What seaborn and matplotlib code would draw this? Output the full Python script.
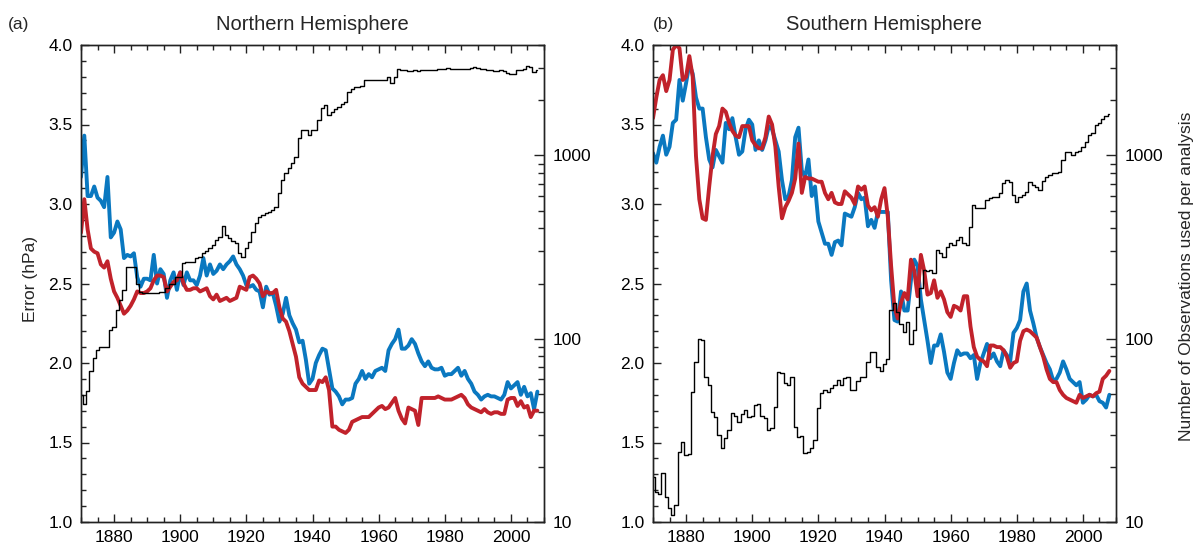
from matplotlib import pyplot as plt
from matplotlib.ticker import MultipleLocator, LogLocator, NullFormatter
from matplotlib.ticker import FixedLocator, FixedFormatter
import pandas as pd
import seaborn as sns

# ---- data ----
years = list(range(1870, 2009))

nh_blue = [3.17, 3.43, 3.05, 3.05, 3.11, 3.04, 3.02, 2.98, 3.17, 2.79,
           2.82, 2.89, 2.84, 2.66, 2.68, 2.67, 2.69, 2.54, 2.48, 2.53,
           2.53, 2.52, 2.68, 2.50, 2.59, 2.56, 2.41, 2.52, 2.57, 2.46,
           2.57, 2.49, 2.57, 2.52, 2.52, 2.49, 2.55, 2.66, 2.55, 2.62,
           2.56, 2.58, 2.62, 2.59, 2.62, 2.64, 2.67, 2.62, 2.59, 2.55,
           2.49, 2.48, 2.49, 2.46, 2.45, 2.35, 2.48, 2.43, 2.44, 2.36,
           2.26, 2.31, 2.41, 2.30, 2.25, 2.21, 2.13, 2.14, 2.02, 1.87,
           1.90, 2.00, 2.05, 2.09, 2.08, 1.96, 1.84, 1.82, 1.79, 1.74,
           1.77, 1.77, 1.78, 1.87, 1.90, 1.95, 1.90, 1.93, 1.91, 1.95,
           1.96, 1.97, 1.95, 2.08, 2.12, 2.15, 2.21, 2.09, 2.09, 2.11,
           2.15, 2.12, 2.06, 2.01, 1.98, 2.01, 1.97, 1.96, 1.96, 1.97,
           1.92, 1.93, 1.93, 1.95, 1.97, 1.92, 1.95, 1.90, 1.87, 1.82,
           1.80, 1.77, 1.79, 1.80, 1.79, 1.79, 1.78, 1.77, 1.80, 1.88,
           1.84, 1.86, 1.88, 1.80, 1.85, 1.79, 1.81, 1.71, 1.82]

nh_red = [2.82, 3.03, 2.84, 2.72, 2.70, 2.69, 2.62, 2.60, 2.64, 2.53,
          2.45, 2.41, 2.36, 2.31, 2.33, 2.36, 2.40, 2.45, 2.44, 2.44,
          2.45, 2.47, 2.52, 2.55, 2.55, 2.54, 2.45, 2.48, 2.51, 2.52,
          2.57, 2.50, 2.46, 2.46, 2.47, 2.47, 2.45, 2.46, 2.47, 2.42,
          2.40, 2.43, 2.39, 2.40, 2.41, 2.39, 2.40, 2.41, 2.48, 2.47,
          2.46, 2.54, 2.55, 2.53, 2.50, 2.42, 2.45, 2.44, 2.44, 2.46,
          2.35, 2.28, 2.26, 2.20, 2.12, 2.04, 1.91, 1.87, 1.85, 1.83,
          1.83, 1.83, 1.89, 1.88, 1.91, 1.83, 1.60, 1.60, 1.58, 1.57,
          1.56, 1.58, 1.63, 1.64, 1.65, 1.66, 1.66, 1.66, 1.68, 1.70,
          1.72, 1.73, 1.71, 1.72, 1.75, 1.78, 1.70, 1.65, 1.62, 1.72,
          1.71, 1.70, 1.61, 1.78, 1.78, 1.78, 1.78, 1.78, 1.79, 1.78,
          1.77, 1.77, 1.77, 1.78, 1.79, 1.80, 1.78, 1.74, 1.72, 1.71,
          1.70, 1.69, 1.71, 1.69, 1.68, 1.69, 1.69, 1.68, 1.68, 1.77,
          1.78, 1.78, 1.73, 1.76, 1.72, 1.73, 1.66, 1.70, 1.70]

nh_obs = [49, 44, 52, 67, 78, 87, 90, 90, 90, 111,
          116, 143, 163, 184, 247, 247, 247, 200, 180, 177,
          177, 177, 177, 178, 180, 180, 188, 200, 200, 218,
          218, 258, 263, 263, 263, 274, 280, 292, 300, 311,
          324, 345, 360, 412, 368, 353, 340, 331, 292, 280,
          311, 338, 383, 425, 463, 470, 483, 490, 504, 525,
          621, 735, 798, 850, 905, 985, 1240, 1375, 1375, 1290,
          1375, 1375, 1560, 1808, 1885, 1660, 1720, 1780, 1845, 1900,
          1963, 2225, 2300, 2350, 2370, 2400, 2575, 2575, 2575, 2580,
          2585, 2590, 2590, 2685, 2470, 2685, 2945, 2930, 2910, 2900,
          2895, 2905, 2900, 2910, 2920, 2920, 2930, 2940, 2945, 2950,
          2960, 2985, 2970, 2960, 2955, 2950, 2945, 2960, 2990, 3020,
          2990, 2960, 2945, 2930, 2910, 2895, 2895, 2920, 2900, 2805,
          2790, 2790, 2920, 2920, 2945, 3070, 3045, 2860, 2920]

sh_blue = [3.32, 3.26, 3.36, 3.43, 3.31, 3.36, 3.51, 3.53, 3.78, 3.65,
           3.76, 3.88, 3.82, 3.67, 3.60, 3.60, 3.42, 3.28, 3.23, 3.34,
           3.30, 3.26, 3.51, 3.47, 3.54, 3.42, 3.31, 3.33, 3.47, 3.53,
           3.50, 3.34, 3.40, 3.34, 3.40, 3.49, 3.47, 3.40, 3.33, 3.15,
           3.03, 3.05, 3.15, 3.42, 3.48, 3.21, 3.17, 3.28, 3.05, 3.11,
           2.89, 2.82, 2.75, 2.75, 2.68, 2.76, 2.77, 2.74, 2.94, 2.93,
           2.92, 2.98, 3.07, 3.03, 3.04, 2.86, 2.90, 2.85, 2.95, 2.95,
           2.95, 2.95, 2.52, 2.27, 2.26, 2.45, 2.33, 2.33, 2.52, 2.65,
           2.61, 2.40, 2.27, 2.14, 2.00, 2.11, 2.11, 2.18, 2.07, 1.94,
           1.90, 2.00, 2.08, 2.05, 2.06, 2.06, 2.03, 2.05, 1.90, 2.00,
           2.06, 2.12, 2.03, 2.06, 2.01, 1.98, 2.08, 2.05, 2.01, 2.19,
           2.22, 2.27, 2.45, 2.50, 2.33, 2.25, 2.16, 2.10, 2.05, 2.00,
           1.96, 1.89, 1.90, 1.94, 2.01, 1.96, 1.90, 1.88, 1.86, 1.88,
           1.75, 1.77, 1.80, 1.79, 1.80, 1.76, 1.75, 1.72, 1.80]

sh_red = [3.54, 3.67, 3.78, 3.81, 3.71, 3.78, 3.97, 4.00, 3.98, 3.78,
          3.80, 3.93, 3.80, 3.30, 3.03, 2.91, 2.90, 3.11, 3.30, 3.44,
          3.49, 3.60, 3.58, 3.51, 3.46, 3.43, 3.42, 3.49, 3.49, 3.49,
          3.40, 3.37, 3.35, 3.35, 3.42, 3.55, 3.50, 3.36, 3.11, 2.91,
          2.98, 3.02, 3.07, 3.16, 3.38, 3.07, 3.17, 3.16, 3.16, 3.15,
          3.14, 3.14, 3.07, 3.03, 3.07, 3.01, 3.00, 3.00, 3.08, 3.06,
          3.04, 3.00, 3.11, 3.09, 3.11, 2.99, 2.96, 2.98, 2.92, 3.03,
          3.10, 2.92, 2.61, 2.35, 2.28, 2.38, 2.44, 2.40, 2.65, 2.58,
          2.42, 2.68, 2.58, 2.43, 2.44, 2.52, 2.41, 2.45, 2.40, 2.32,
          2.29, 2.36, 2.35, 2.33, 2.42, 2.42, 2.23, 2.10, 2.04, 2.02,
          2.01, 1.98, 2.11, 2.11, 2.10, 2.10, 2.08, 2.04, 1.97, 2.00,
          2.01, 2.14, 2.20, 2.21, 2.20, 2.18, 2.16, 2.10, 2.04, 1.96,
          1.90, 1.88, 1.88, 1.83, 1.80, 1.78, 1.77, 1.76, 1.75, 1.80,
          1.78, 1.79, 1.80, 1.79, 1.81, 1.82, 1.90, 1.92, 1.95]

sh_obs = [17.7, 14.6, 14.3, 18.4, 13.7, 11.9, 10.9, 12.4, 24.1, 27.4,
          23.2, 23.5, 51.4, 75, 100, 98, 62, 56, 40, 37.5,
          30, 25.2, 28.6, 31.8, 39.2, 38, 35.2, 39, 40.8, 37.5,
          38, 43.5, 44, 38, 36.7, 31.8, 32.5, 42.5, 66, 65,
          57, 56, 62, 33, 29, 29.5, 23.7, 24, 25.2, 28,
          41.7, 50.3, 52.5, 51.5, 53.6, 56, 59.4, 56, 60.8, 62,
          52.5, 52.5, 59, 62, 62, 75, 85, 85, 70, 67,
          73, 77, 143, 156, 140, 121, 109, 124, 94, 111,
          149, 188, 237, 235, 237, 227, 305, 292, 280, 318,
          331, 325, 345, 360, 331, 325, 408, 535, 514, 514,
          514, 570, 583, 596, 596, 621, 703, 734, 718, 608,
          559, 596, 608, 634, 718, 689, 675, 647, 726, 765,
          781, 798, 798, 811, 946, 1047, 1047, 1005, 1047, 1057,
          1115, 1189, 1291, 1320, 1470, 1496, 1570, 1642, 1675]

panel_titles = ["Northern Hemisphere", "Southern Hemisphere"]
panel_tags = ["(a)", "(b)"]
year_ticks = [1880, 1900, 1920, 1940, 1960, 1980, 2000]
error_ticks = [1.0, 1.5, 2.0, 2.5, 3.0, 3.5, 4.0]
obs_ticks = [10, 100, 1000]

BLUE = "#0a78c0"
RED = "#c1222b"

sns.set_style("ticks")
plt.rcParams["font.family"] = ["Liberation Sans", "DejaVu Sans"]
plt.rcParams["font.size"] = 12.5
plt.rcParams["axes.linewidth"] = 1.0
plt.rcParams["axes.edgecolor"] = "#222222"

W, H = 1196, 550
fig = plt.figure(figsize=(W / 100, H / 100), dpi=100)

panels = [
    (81, pd.DataFrame({"year": years, "blue": nh_blue, "red": nh_red,
                       "obs": nh_obs})),
    (653, pd.DataFrame({"year": years, "blue": sh_blue, "red": sh_red,
                        "obs": sh_obs})),
]

for i, (left_px, df) in enumerate(panels):
    ax = fig.add_axes([left_px / W, 28 / H, 463 / W, 477 / H])
    ax2 = ax.twinx()
    ax2.set_yscale("log")

    sns.lineplot(data=df, x="year", y="blue", ax=ax, color=BLUE,
                 linewidth=2.8, zorder=2)
    sns.lineplot(data=df, x="year", y="red", ax=ax, color=RED,
                 linewidth=2.8, zorder=3)
    sns.lineplot(data=df, x="year", y="obs", ax=ax2, color="black",
                 linewidth=1.0, drawstyle="steps-mid")

    ax.set_xlim(1870, 2010)
    ax.set_ylim(1.0, 4.0)
    ax2.set_ylim(10, 4000)

    ax.xaxis.set_major_locator(FixedLocator(year_ticks))
    ax.xaxis.set_minor_locator(MultipleLocator(5))
    ax.yaxis.set_major_locator(FixedLocator(error_ticks))
    ax.yaxis.set_major_formatter(FixedFormatter(
        ["%.1f" % v for v in error_ticks]))
    ax.yaxis.set_minor_locator(MultipleLocator(0.1))

    ax2.yaxis.set_major_locator(FixedLocator(obs_ticks))
    ax2.yaxis.set_major_formatter(FixedFormatter(
        [str(v) for v in obs_ticks]))
    ax2.yaxis.set_minor_locator(LogLocator(base=10, subs=range(2, 10)))
    ax2.yaxis.set_minor_formatter(NullFormatter())

    ax.tick_params(which="both", direction="in", top=True, right=False,
                   width=1.0, colors="#222222", labelcolor="black")
    ax.tick_params(which="major", length=6, pad=6)
    ax.tick_params(which="minor", length=3.5)
    ax2.tick_params(which="both", direction="in", width=1.0,
                    colors="#222222", labelcolor="black")
    ax2.tick_params(which="major", length=7, pad=6)
    ax2.tick_params(which="minor", length=4)

    for a in (ax, ax2):
        a.set_xlabel("")
        a.set_ylabel("")
        for s in a.spines.values():
            s.set_visible(True)

    cx = (left_px + 463 / 2) / W
    fig.text(cx, 1 - 25 / H, panel_titles[i], ha="center", va="center",
             fontsize=14.5)

fig.text(8 / W, 1 - 25 / H, panel_tags[0], ha="left", va="center",
         fontsize=12.5)
fig.text(653 / W, 1 - 25 / H, panel_tags[1], ha="left", va="center",
         fontsize=12.5)
fig.text(30 / W, 1 - 279 / H, "Error (hPa)", rotation=90, ha="center",
         va="center", fontsize=12.5)
fig.text(1187 / W, 1 - 276 / H, "Number of Observations used per analysis",
         rotation=90, ha="center", va="center", fontsize=12.5)

fig.savefig("out.png", dpi=100)
